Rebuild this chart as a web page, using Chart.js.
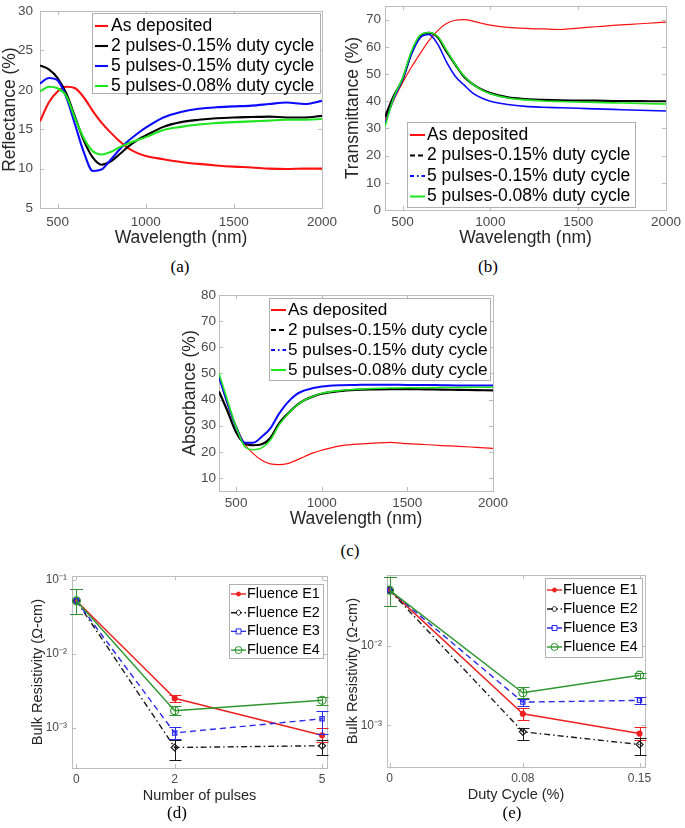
<!DOCTYPE html>
<html>
<head>
<meta charset="utf-8">
<script src="https://cdn.jsdelivr.net/npm/chart.js@4.4.1/dist/chart.umd.min.js"></script>
<style>
body { margin: 0; background: #fff; width: 685px; height: 828px; position: relative; overflow: hidden; }
canvas { position: absolute; }
.cap { position: absolute; font-family: "Liberation Serif", "Times New Roman", serif; font-size: 17px; color: #000; transform: translate(-50%, -50%); }
</style>
</head>
<body>
<canvas id="ca" width="343" height="253" style="left:0px;top:-4px"></canvas>
<canvas id="cb" width="342" height="255" style="left:343px;top:-6px"></canvas>
<canvas id="cc" width="332" height="247" style="left:180px;top:283px"></canvas>
<canvas id="cd" width="306" height="241" style="left:29px;top:564px"></canvas>
<canvas id="ce" width="315" height="241" style="left:344px;top:563px"></canvas>
<div class="cap" style="left:180px;top:267px">(a)</div>
<div class="cap" style="left:488px;top:267px">(b)</div>
<div class="cap" style="left:350px;top:551px">(c)</div>
<div class="cap" style="left:177px;top:813px">(d)</div>
<div class="cap" style="left:512px;top:813px">(e)</div>
<script>
// ---- data ----
var wavelength = [400, 450, 500, 550, 600, 650, 700, 750, 800, 850, 900, 950, 1000, 1100, 1200, 1300, 1400, 1500, 1600, 1700, 1800, 1900, 2000];
var sampleNames = ["As deposited", "2 pulses-0.15% duty cycle", "5 pulses-0.15% duty cycle", "5 pulses-0.08% duty cycle"];

var reflAsDep = [16.0, 18.4, 19.8, 20.4, 20.2, 19.0, 17.3, 15.8, 14.6, 13.5, 12.6, 12.0, 11.6, 11.2, 10.85, 10.6, 10.4, 10.25, 10.15, 10.0, 9.95, 10.0, 10.0];
var refl2p015 = [23.1, 22.6, 21.5, 19.5, 16.5, 13.5, 11.4, 10.5, 10.9, 11.8, 12.8, 13.6, 14.2, 15.3, 15.9, 16.2, 16.4, 16.5, 16.55, 16.6, 16.5, 16.5, 16.7];
var refl5p015 = [20.8, 21.5, 21.2, 19.0, 15.5, 12.0, 9.7, 9.9, 11.1, 12.4, 13.5, 14.4, 15.2, 16.5, 17.2, 17.6, 17.8, 17.9, 18.0, 18.2, 18.4, 18.2, 18.6];
var refl5p008 = [19.8, 20.4, 20.2, 19.2, 16.3, 13.8, 12.2, 11.8, 12.1, 12.7, 13.2, 13.6, 14.0, 14.9, 15.3, 15.6, 15.8, 15.9, 16.0, 16.1, 16.2, 16.2, 16.3];

var transAsDep = [33.0, 40.5, 46.8, 52.5, 57.5, 62.3, 66.0, 68.6, 69.8, 70.0, 69.5, 68.7, 68.0, 67.2, 66.8, 66.6, 66.4, 66.9, 67.4, 67.9, 68.3, 68.7, 69.1];
var trans2p015 = [34.2, 42.0, 48.0, 57.5, 63.8, 65.2, 63.5, 58.3, 53.5, 49.0, 46.3, 44.3, 43.0, 41.4, 40.8, 40.5, 40.3, 40.2, 40.2, 40.1, 40.1, 40.0, 40.0];
var trans5p015 = [31.7, 41.0, 48.0, 57.3, 63.3, 64.6, 61.0, 54.5, 49.2, 46.0, 43.0, 41.2, 40.0, 38.8, 38.1, 37.8, 37.6, 37.4, 37.2, 37.0, 36.8, 36.6, 36.4];
var trans5p008 = [30.7, 41.5, 48.5, 58.3, 64.3, 65.3, 63.8, 58.8, 53.6, 49.3, 46.3, 44.2, 42.8, 41.2, 40.5, 40.1, 39.9, 39.7, 39.6, 39.4, 39.3, 39.1, 39.0];

var absAsDep = [48.8, 38.0, 29.8, 23.0, 19.3, 16.8, 15.4, 15.1, 15.5, 16.7, 18.2, 19.6, 20.6, 22.2, 22.9, 23.3, 23.6, 23.1, 22.8, 22.4, 22.1, 21.7, 21.3];
var abs2p015 = [43.1, 35.5, 27.5, 23.2, 22.5, 22.9, 25.3, 30.8, 34.5, 37.6, 39.8, 41.2, 42.2, 43.2, 43.7, 43.9, 44.0, 44.0, 43.9, 43.8, 43.7, 43.6, 43.5];
var abs5p015 = [48.6, 38.5, 29.5, 23.5, 23.5, 25.8, 29.0, 34.5, 38.8, 41.9, 43.5, 44.4, 45.0, 45.5, 45.6, 45.7, 45.7, 45.6, 45.6, 45.5, 45.4, 45.4, 45.4];
var abs5p008 = [50.1, 39.5, 29.5, 22.0, 20.8, 21.5, 24.5, 30.2, 34.3, 37.5, 39.8, 41.3, 42.4, 43.4, 43.9, 44.2, 44.4, 44.5, 44.5, 44.6, 44.6, 44.7, 44.7];

var wlTicks = [500, 1000, 1500, 2000];
var reflTicks = [5, 10, 15, 20, 25, 30];
var transTicks = [0, 10, 20, 30, 40, 50, 60, 70];
var absTicks = [10, 20, 30, 40, 50, 60, 70, 80];

var fluenceNames = ["Fluence E1", "Fluence E2", "Fluence E3", "Fluence E4"];
var pulses = [0, 2, 5];
var resPulses = [[0.052, 2.5e-3, 7.9e-4], [0.052, 5.4e-4, 5.7e-4], [0.052, 8.5e-4, 1.32e-3], [0.052, 1.7e-3, 2.35e-3]];
var resPulsesLo = [[0.034, 2.2e-3, 6.5e-4], [0.034, 3.6e-4, 4.3e-4], [0.034, 7.1e-4, 8.3e-4], [0.034, 1.5e-3, 2.05e-3]];
var resPulsesHi = [[0.076, 2.8e-3, 9.8e-4], [0.076, 6.8e-4, 6.8e-4], [0.076, 1.02e-3, 1.66e-3], [0.076, 1.94e-3, 2.6e-3]];

var duty = [0, 0.08, 0.15];
var resDuty = [[0.050, 1.4e-3, 7.9e-4], [0.050, 8.3e-4, 5.75e-4], [0.050, 1.96e-3, 2.06e-3], [0.050, 2.57e-3, 4.27e-3]];
var resDutyLo = [[0.032, 1.17e-3, 6.6e-4], [0.032, 6.6e-4, 4.3e-4], [0.032, 1.75e-3, 1.84e-3], [0.032, 2.23e-3, 3.95e-3]];
var resDutyHi = [[0.073, 1.67e-3, 9.5e-4], [0.073, 9.4e-4, 7.0e-4], [0.073, 2.17e-3, 2.28e-3], [0.073, 3.0e-3, 4.6e-3]];
var decadeTicks = [1e-3, 1e-2, 1e-1];

// ---- drawing ----
var FONT = '"Liberation Sans", Arial, Helvetica, sans-serif';
Chart.defaults.font.family = FONT;

function toPoints(xs, ys) {
  return xs.map(function (x, i) { return {x: x, y: ys[i]}; });
}

function fixedTicks(list) {
  return function (scale) {
    scale.ticks = list.filter(function (v) { return v >= scale.min && v <= scale.max; })
      .map(function (v) { return {value: v}; });
  };
}

var SUP = {"-": "\u207B", "0": "\u2070", "1": "\u00B9", "2": "\u00B2", "3": "\u00B3", "4": "\u2074"};
function powLabel(v) {
  var e = String(Math.round(Math.log10(v)));
  return "10" + e.split("").map(function (c) { return SUP[c]; }).join("");
}

// box with inward tick marks, like the matlab axes
var frame = {
  id: "frame",
  beforeDatasetsDraw: function (chart) {
    var ctx = chart.ctx, a = chart.chartArea;
    var sx = chart.scales.x, sy = chart.scales.y;
    ctx.save();
    ctx.strokeStyle = "#bcbcbc";
    ctx.lineWidth = 1;
    ctx.beginPath();
    sx.ticks.forEach(function (t) {
      var px = Math.round(sx.getPixelForValue(t.value)) + 0.5;
      ctx.moveTo(px, a.bottom); ctx.lineTo(px, a.bottom - 4);
      ctx.moveTo(px, a.top); ctx.lineTo(px, a.top + 4);
    });
    sy.ticks.forEach(function (t) {
      var py = Math.round(sy.getPixelForValue(t.value)) + 0.5;
      ctx.moveTo(a.left, py); ctx.lineTo(a.left + 4, py);
      ctx.moveTo(a.right, py); ctx.lineTo(a.right - 4, py);
    });
    ctx.stroke();
    ctx.strokeRect(Math.round(a.left) + 0.5, Math.round(a.top) + 0.5, Math.round(a.right - a.left), Math.round(a.bottom - a.top));
    ctx.restore();
  }
};

// vertical error bars with caps, snapped to whole pixels so the last series covers the others cleanly
var errorBars = {
  id: "errorBars",
  afterDatasetsDraw: function (chart) {
    var ctx = chart.ctx, sx = chart.scales.x, sy = chart.scales.y;
    for (var i = 0; i < chart.data.datasets.length; i++) {
      var ds = chart.data.datasets[i];
      if (!ds.errLo) continue;
      ctx.save();
      ctx.strokeStyle = ds.borderColor;
      ctx.lineWidth = 1;
      ctx.beginPath();
      ds.data.forEach(function (p, j) {
        var px = Math.round(sx.getPixelForValue(p.x)) + 0.5;
        var lo = Math.round(sy.getPixelForValue(ds.errLo[j])) + 0.5;
        var hi = Math.round(sy.getPixelForValue(ds.errHi[j])) + 0.5;
        ctx.moveTo(px, lo); ctx.lineTo(px, hi);
        ctx.moveTo(px - 6, lo); ctx.lineTo(px + 6, lo);
        ctx.moveTo(px - 6, hi); ctx.lineTo(px + 6, hi);
      });
      ctx.stroke();
      ctx.restore();
    }
  }
};

function drawMarker(ctx, style, r, x, y) {
  ctx.beginPath();
  if (style === "rect") {
    ctx.rect(x - r, y - r, 2 * r, 2 * r);
  } else if (style === "rectRot") {
    ctx.moveTo(x, y - r); ctx.lineTo(x + r, y); ctx.lineTo(x, y + r); ctx.lineTo(x - r, y); ctx.closePath();
  } else {
    ctx.arc(x, y, r, 0, Math.PI * 2);
  }
  ctx.fill();
  ctx.stroke();
}

// legend drawn inside the plot box
function boxLegend(cfg) {
  return {
    id: "boxLegend",
    afterDraw: function (chart) {
      var ctx = chart.ctx, a = chart.chartArea;
      var x0 = Math.round(a.left + cfg.box[0]), y0 = Math.round(a.top + cfg.box[1]);
      ctx.save();
      ctx.fillStyle = "#fff";
      ctx.fillRect(x0, y0, cfg.box[2], cfg.box[3]);
      ctx.strokeStyle = "#b0b0b0";
      ctx.lineWidth = 1;
      ctx.strokeRect(x0 + 0.5, y0 + 0.5, cfg.box[2], cfg.box[3]);
      ctx.font = cfg.fontSize + "px " + FONT;
      ctx.textBaseline = "middle";
      ctx.textAlign = "left";
      chart.data.datasets.forEach(function (ds, i) {
        var cy = y0 + cfg.first + i * cfg.row;
        var lx = x0 + cfg.lineX;
        ctx.strokeStyle = ds.borderColor;
        ctx.lineWidth = ds.legendWidth || ds.borderWidth;
        ctx.setLineDash(ds.legendDash || ds.borderDash || []);
        ctx.beginPath();
        ctx.moveTo(lx, cy); ctx.lineTo(lx + cfg.lineW, cy);
        ctx.stroke();
        ctx.setLineDash([]);
        if (ds.pointRadius > 0) {
          ctx.lineWidth = 1;
          ctx.fillStyle = ds.pointBackgroundColor;
          drawMarker(ctx, ds.pointStyle, ds.pointRadius - 0.5, lx + cfg.lineW / 2, cy);
        }
        ctx.fillStyle = "#000";
        ctx.fillText(ds.label, lx + cfg.lineW + cfg.gap, cy);
      });
      ctx.restore();
    }
  };
}

function makeChart(id, p, datasets) {
  var yAxis = {
    type: p.yType || "linear", min: p.yMin, max: p.yMax,
    grid: {display: false, drawTicks: false}, border: {display: false},
    afterBuildTicks: fixedTicks(p.yTicks),
    afterFit: function (s) { s.width = p.yW; },
    ticks: {autoSkip: false, padding: p.yPad, color: "#4a4a4a", font: {size: p.tickSize},
      callback: p.yFmt || function (v) { return String(v); }},
    title: {display: true, text: p.yTitle, color: "#262626", font: {size: p.titleSize}, padding: 0}
  };
  return new Chart(document.getElementById(id), {
    type: "line",
    data: {datasets: datasets},
    options: {
      responsive: false, animation: false, devicePixelRatio: 1,
      layout: {padding: p.pad},
      plugins: {legend: {display: false}, tooltip: {enabled: false}},
      scales: {
        x: {
          type: "linear", min: p.xMin, max: p.xMax,
          grid: {display: false, drawTicks: false}, border: {display: false},
          afterBuildTicks: fixedTicks(p.xTicks),
          afterFit: function (s) { s.height = p.xH; },
          ticks: {autoSkip: false, maxRotation: 0, padding: p.xPad, color: "#4a4a4a", font: {size: p.tickSize},
            callback: function (v) { return String(v); }},
          title: {display: true, text: p.xTitle, color: "#262626", font: {size: p.titleSize}, padding: 0}
        },
        y: yAxis
      }
    },
    plugins: [frame, errorBars, boxLegend(p.legend)]
  });
}

function spectraSets(series, colors, widths, legendDash) {
  return series.map(function (ys, i) {
    return {
      label: sampleNames[i],
      data: toPoints(wavelength, ys),
      borderColor: colors[i],
      borderWidth: widths[i],
      legendDash: legendDash ? legendDash[i] : null,
      legendWidth: legendDash ? Math.max(widths[i], 2) : null,
      pointRadius: 0,
      cubicInterpolationMode: "monotone",
      order: series.length - 1 - i
    };
  });
}

function resistSets(xs, vals, lo, hi) {
  var colors = ["#ee2020", "#1a1a1a", "#2b2bee", "#2f962f"];
  var dashes = [[], [6, 3, 1.5, 3], [6, 4], []];
  var styles = ["circle", "rectRot", "rect", "circle"];
  var radius = [2.5, 3.5, 3, 4];
  var fills = ["#ee2020", "rgba(0,0,0,0)", "rgba(0,0,0,0)", "rgba(0,0,0,0)"];
  return vals.map(function (ys, i) {
    return {
      label: fluenceNames[i],
      data: toPoints(xs, ys),
      errLo: lo[i], errHi: hi[i],
      borderColor: colors[i], borderWidth: 1.4, borderDash: dashes[i],
      pointStyle: styles[i], pointRadius: radius[i], pointBorderWidth: 1.2,
      pointBackgroundColor: fills[i], pointBorderColor: colors[i],
      tension: 0, order: vals.length - 1 - i
    };
  });
}

var specColors = ["#ff1010", "#000000", "#0a0aff", "#1ee61e"];

makeChart("ca", {
  pad: {left: 0, top: 12, right: 20, bottom: 0}, yW: 40, xH: 41, xPad: 6, yPad: 7,
  tickSize: 13.5, titleSize: 17.5,
  xMin: 400, xMax: 2000, xTicks: wlTicks, xTitle: "Wavelength (nm)",
  yMin: 5, yMax: 30, yTicks: reflTicks, yTitle: "Reflectance (%)",
  legend: {box: [52, 2, 228, 80], first: 13, row: 20, lineX: 3, lineW: 13, gap: 3, fontSize: 17.5}
}, spectraSets([reflAsDep, refl2p015, refl5p015, refl5p008], specColors, [2.1, 2.1, 2.1, 2.1]));

makeChart("cb", {
  pad: {left: 0, top: 12, right: 17, bottom: 0}, yW: 42, xH: 39, xPad: 4, yPad: 4,
  tickSize: 13.5, titleSize: 17.5,
  xMin: 400, xMax: 2000, xTicks: wlTicks, xTitle: "Wavelength (nm)",
  yMin: 0, yMax: 75, yTicks: transTicks, yTitle: "Transmittance (%)",
  legend: {box: [22, 116, 228, 85], first: 13, row: 20.5, lineX: 3, lineW: 15, gap: 2, fontSize: 17.5}
}, spectraSets([transAsDep, trans2p015, trans5p015, trans5p008], specColors, [1.2, 2.2, 1.6, 1.6],
  [[], [5, 3], [4, 3, 1.5, 3], []]));

makeChart("cc", {
  pad: {left: 0, top: 12, right: 17, bottom: 0}, yW: 39, xH: 39, xPad: 4, yPad: 3,
  tickSize: 13.5, titleSize: 17.5,
  xMin: 400, xMax: 2000, xTicks: wlTicks, xTitle: "Wavelength (nm)",
  yMin: 5, yMax: 80, yTicks: absTicks, yTitle: "Absorbance (%)",
  legend: {box: [50, 3, 221, 82], first: 12, row: 20, lineX: 2, lineW: 15, gap: 2, fontSize: 17.2}
}, spectraSets([absAsDep, abs2p015, abs5p015, abs5p008], specColors, [1.2, 2.2, 2.0, 1.6],
  [[], [5, 3], [4, 3, 1.5, 3], []]));

makeChart("cd", {
  pad: {left: 0, top: 12, right: 8, bottom: 0}, yW: 43, xH: 37, xPad: 4, yPad: 5,
  tickSize: 12, titleSize: 14.5,
  xMin: -0.09, xMax: 5.1, xTicks: pulses, xTitle: "Number of pulses",
  yType: "logarithmic", yMin: 2.85e-4, yMax: 0.112, yTicks: decadeTicks, yFmt: powLabel,
  yTitle: "Bulk Resistivity (\u03A9-cm)",
  legend: {box: [157, 8, 94, 74], first: 10, row: 18.7, lineX: 2, lineW: 15, gap: 1, fontSize: 14.4}
}, resistSets(pulses, resPulses, resPulsesLo, resPulsesHi));

makeChart("ce", {
  pad: {left: 0, top: 12, right: 14, bottom: 0}, yW: 43, xH: 37, xPad: 4, yPad: 5,
  tickSize: 12, titleSize: 14.5,
  xMin: -0.0015, xMax: 0.1533, xTicks: duty, xTitle: "Duty Cycle (%)",
  yType: "logarithmic", yMin: 3.0e-4, yMax: 0.077, yTicks: decadeTicks, yFmt: powLabel,
  yTitle: "Bulk Resistivity (\u03A9-cm)",
  legend: {box: [158, 3, 97, 79], first: 12, row: 19, lineX: 2, lineW: 15, gap: 1, fontSize: 14.8}
}, resistSets(duty, resDuty, resDutyLo, resDutyHi));
</script>
</body>
</html>
